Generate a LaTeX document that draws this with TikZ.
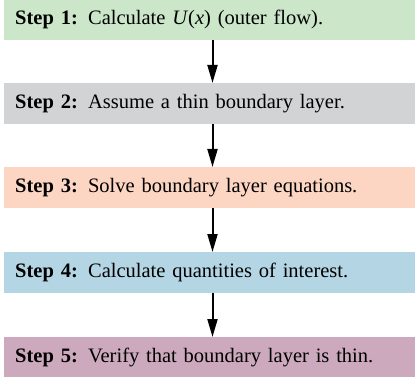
\documentclass[tikz,border=0pt]{standalone}
\usepackage{fontspec}
\setmainfont{Liberation Serif}
\usetikzlibrary{arrows.meta}
\definecolor{cA}{HTML}{CCE6CA}
\definecolor{cB}{HTML}{D1D3D5}
\definecolor{cC}{HTML}{FCD6C2}
\definecolor{cD}{HTML}{B4D5E4}
\definecolor{cE}{HTML}{CDA9BD}
\begin{document}
\begin{tikzpicture}[x=1pt,y=-1pt,
  stepbox/.style={rectangle, inner sep=0pt, minimum width=411pt, minimum height=41pt,
    anchor=north west, text width=389pt, align=left, font=\fontsize{20.5}{23}\selectfont},
  conn/.style={line width=2pt, -{Triangle[length=18pt,width=10pt]}}]
\useasboundingbox (0,0) rectangle (415,377);
\node[stepbox, fill=cA] (s1) at (4,-1) {\textbf{Step 1:} Calculate \textit{U}(\textit{x}) (outer flow).};
\node[stepbox, fill=cB] (s2) at (4,83) {\textbf{Step 2:} Assume a thin boundary layer.};
\node[stepbox, fill=cC] (s3) at (4,167) {\textbf{Step 3:} Solve boundary layer equations.};
\node[stepbox, fill=cD] (s4) at (4,252) {\textbf{Step 4:} Calculate quantities of interest.};
\node[stepbox, fill=cE] (s5) at (4,337) {\textbf{Step 5:} Verify that boundary layer is thin.};
\draw[conn] (s1.south -| 212.5,0) -- (s2.north -| 212.5,0);
\draw[conn] (s2.south -| 212.5,0) -- (s3.north -| 212.5,0);
\draw[conn] (s3.south -| 212.5,0) -- (s4.north -| 212.5,0);
\draw[conn] (s4.south -| 212.5,0) -- (s5.north -| 212.5,0);
\end{tikzpicture}
\end{document}
